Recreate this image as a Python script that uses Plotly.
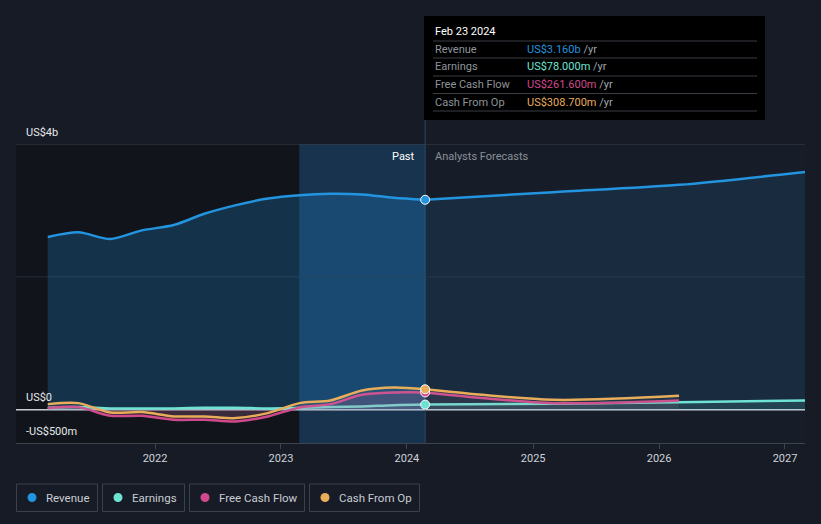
import plotly.graph_objects as go

# ---------------- data ----------------
dates_past = ["2021-02-24", "2021-05-24", "2021-08-24", "2021-11-24",
              "2022-02-24", "2022-05-24", "2022-08-24", "2022-11-24",
              "2023-02-24", "2023-05-24", "2023-08-24", "2023-11-24",
              "2024-02-23"]
revenue_past = [2.60, 2.67, 2.57, 2.70, 2.78, 2.95, 3.08, 3.18, 3.23, 3.25, 3.24, 3.19, 3.16]
earnings_past = [0.03, 0.04, 0.02, 0.02, 0.02, 0.03, 0.03, 0.02, 0.03, 0.04, 0.05, 0.07, 0.078]
fcf_past = [0.025, 0.04, -0.09, -0.09, -0.15, -0.15, -0.175, -0.10, 0.035, 0.085, 0.225, 0.26, 0.2616]
cfo_past = [0.085, 0.10, -0.04, -0.035, -0.10, -0.10, -0.125, -0.05, 0.10, 0.14, 0.29, 0.335, 0.3087]

dates_fc_long = ["2024-02-23", "2025-02-28", "2026-02-28", "2027-02-28"]
revenue_fc = [3.16, 3.275, 3.385, 3.58]
earnings_fc = [0.078, 0.09, 0.115, 0.14]

dates_fc_short = ["2024-02-23", "2025-02-28", "2026-02-28"]
fcf_fc = [0.2616, 0.10, 0.14]
cfo_fc = [0.3087, 0.15, 0.21]

year_ticks = ["2022-01-01", "2023-01-01", "2024-01-01", "2025-01-01", "2026-01-01", "2027-01-01"]
year_labels = ["2022", "2023", "2024", "2025", "2026", "2027"]

series_names = ["Revenue", "Earnings", "Free Cash Flow", "Cash From Op"]
tooltip_values = ["US$3.160b", "US$78.000m", "US$261.600m", "US$308.700m"]
tooltip_date = "Feb 23 2024"
y_labels = [(4.0, "US$4b"), (0.0, "US$0"), (-0.5, "-US$500m")]

# ---------------- style ----------------
C_REV = "#2394df"
C_EARN = "#6fe3d3"
C_FCF = "#cf4a8c"
C_CFO = "#e8ad5b"
colors = [C_REV, C_EARN, C_FCF, C_CFO]
BG = "#161b26"
FONT = "Roboto"

W, H = 821, 524
X0, X1, Y0, Y1 = 16, 805, 144, 443  # plot area in px


def px(x):
    return (x - X0) / (X1 - X0)


def py(y):
    return (Y1 - y) / (Y1 - Y0)


fig = go.Figure()


def add_line(xs, ys, col, fc):
    fig.add_trace(go.Scatter(
        x=xs, y=ys, mode="lines",
        line=dict(color=col, width=2.5, shape="spline", smoothing=0.8),
        fill="tozeroy", fillcolor=fc, hoverinfo="skip", showlegend=False,
    ))


# revenue: past and forecast with slightly different fill strength
add_line(dates_past, revenue_past, C_REV, "rgba(35,148,223,0.24)")
add_line(dates_fc_long, revenue_fc, C_REV, "rgba(35,148,223,0.13)")
# earnings
add_line(dates_past, earnings_past, C_EARN, "rgba(111,227,211,0.10)")
add_line(dates_fc_long, earnings_fc, C_EARN, "rgba(111,227,211,0.12)")
# free cash flow
add_line(dates_past, fcf_past, C_FCF, "rgba(207,74,140,0.16)")
add_line(dates_fc_short, fcf_fc, C_FCF, "rgba(207,74,140,0.06)")
# cash from op
add_line(dates_past, cfo_past, C_CFO, "rgba(200,200,210,0.08)")
add_line(dates_fc_short, cfo_fc, C_CFO, "rgba(200,200,210,0.06)")

# markers at the highlighted date
marker_vals = [revenue_past[-1], earnings_past[-1], fcf_past[-1], cfo_past[-1]]
for v, col in zip(marker_vals, colors):
    fig.add_trace(go.Scatter(
        x=[dates_past[-1]], y=[v], mode="markers",
        marker=dict(color=col, size=9, line=dict(color="white", width=1)),
        hoverinfo="skip", showlegend=False,
    ))

shapes = []
# dark past region
shapes.append(dict(type="rect", xref="x", yref="paper", x0="2020-11-24", x1="2023-02-23",
                   y0=0, y1=1, fillcolor="#11151b", line_width=0, layer="below"))
# highlighted last-year region
shapes.append(dict(type="rect", xref="x", yref="paper", x0="2023-02-23", x1="2024-02-23",
                   y0=0, y1=1, fillcolor="rgba(25,85,135,0.40)", line_width=0, layer="below"))
# gridlines
shapes.append(dict(type="line", xref="paper", yref="y", x0=0, x1=1, y0=4, y1=4,
                   line=dict(color="#3a404b", width=1), layer="below"))
shapes.append(dict(type="line", xref="paper", yref="y", x0=0, x1=1, y0=2, y1=2,
                   line=dict(color="#262e3a", width=1), layer="below"))
shapes.append(dict(type="line", xref="paper", yref="y", x0=0, x1=1, y0=0, y1=0,
                   line=dict(color="#c9ccd2", width=1.5), layer="below"))
# vertical marker line
shapes.append(dict(type="line", xref="x", yref="paper", x0="2024-02-23", x1="2024-02-23",
                   y0=0, y1=py(120), line=dict(color="#2c4760", width=1), layer="below"))

# tooltip box
shapes.append(dict(type="rect", xref="paper", yref="paper", x0=px(424), x1=px(765),
                   y0=py(120), y1=py(16), fillcolor="#000000", line_width=0, layer="above"))
for ly in [41, 58, 76, 93.5, 111]:
    shapes.append(dict(type="line", xref="paper", yref="paper", x0=px(433), x1=px(757),
                       y0=py(ly), y1=py(ly), line=dict(color="#3a3d44", width=1), layer="above"))

annotations = []
annotations.append(dict(xref="paper", yref="paper", x=px(433), y=py(31), text=tooltip_date,
                        showarrow=False, xanchor="left", yanchor="middle",
                        font=dict(family=FONT, size=11, color="#ffffff")))
row_y = [49.5, 67, 84.5, 102]
for ry, name, val, col in zip(row_y, series_names, tooltip_values, colors):
    annotations.append(dict(xref="paper", yref="paper", x=px(433), y=py(ry), text=name,
                            showarrow=False, xanchor="left", yanchor="middle",
                            font=dict(family=FONT, size=11, color="#8f949b")))
    annotations.append(dict(xref="paper", yref="paper", x=px(525), y=py(ry),
                            text=f"<span style='color:{col}'>{val}</span> <span style='color:#a0a4ab'>/yr</span>",
                            showarrow=False, xanchor="left", yanchor="middle",
                            font=dict(family=FONT, size=11, color=col)))

# Past / Analysts Forecasts
annotations.append(dict(xref="paper", yref="paper", x=px(417), y=py(156), text="Past",
                        showarrow=False, xanchor="right", yanchor="middle",
                        font=dict(family=FONT, size=11, color="#ffffff")))
annotations.append(dict(xref="paper", yref="paper", x=px(433), y=py(156), text="Analysts Forecasts",
                        showarrow=False, xanchor="left", yanchor="middle",
                        font=dict(family=FONT, size=11, color="#8a8f97")))

# y labels
for val, lab in y_labels:
    annotations.append(dict(xref="paper", yref="y", x=px(24), y=val, yshift=12, text=lab,
                            showarrow=False, xanchor="left", yanchor="middle",
                            font=dict(family=FONT, size=11, color="#e6e8eb")))

# legend boxes
legend_boxes = [(16.5, 97.5), (102.5, 184.5), (189.5, 304.5), (309.5, 419.5)]
for (bx0, bx1), name, col in zip(legend_boxes, series_names, colors):
    shapes.append(dict(type="rect", xref="paper", yref="paper", x0=px(bx0), x1=px(bx1),
                       y0=py(511.5), y1=py(484), fillcolor="rgba(0,0,0,0)",
                       line=dict(color="#3b414c", width=1), layer="above"))
    cx, cy, r = bx0 + 15.5, 497.5, 4.5
    shapes.append(dict(type="circle", xref="paper", yref="paper", x0=px(cx - r), x1=px(cx + r),
                       y0=py(cy + r), y1=py(cy - r), fillcolor=col, line_width=0, layer="above"))
    annotations.append(dict(xref="paper", yref="paper", x=px(bx0 + 27), y=py(497.5), text=name,
                            showarrow=False, xanchor="left", yanchor="middle",
                            font=dict(family=FONT, size=11.5, color="#c9ccd2")))

fig.update_layout(
    width=W, height=H,
    margin=dict(l=X0, r=W - X1, t=Y0, b=H - Y1, pad=0),
    paper_bgcolor=BG, plot_bgcolor="#171d28",
    font=dict(family=FONT, color="#d0d3d8"),
    shapes=shapes, annotations=annotations,
    showlegend=False,
)
fig.update_xaxes(
    type="date", range=["2020-11-24", "2027-02-28"],
    tickvals=year_ticks, ticktext=year_labels,
    showgrid=False, zeroline=False,
    showline=True, linecolor="#3e444e", linewidth=1,
    ticks="outside", ticklen=5, tickcolor="#3e444e",
    tickfont=dict(family=FONT, size=11, color="#d0d3d8"),
    fixedrange=True,
)
fig.update_yaxes(
    range=[-0.5, 4.0], showgrid=False, zeroline=False, showticklabels=False,
    fixedrange=True,
)

fig.write_html(
    "out.html",
    config={"displayModeBar": False},
    post_script="document.body.style.margin='0';document.body.style.background='#161b26';",
)
